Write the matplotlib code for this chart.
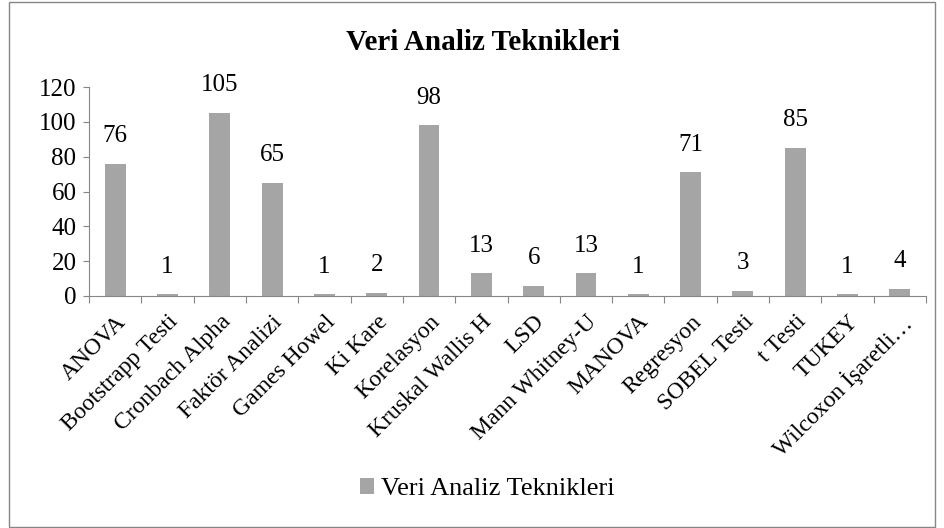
import matplotlib.pyplot as plt
from matplotlib.patches import Rectangle

# Data
categories = ['ANOVA', 'Bootstrapp Testi', 'Cronbach Alpha', 'Faktör Analizi',
              'Games Howel', 'Ki Kare', 'Korelasyon', 'Kruskal Wallis H',
              'LSD', 'Mann Whitney-U', 'MANOVA', 'Regresyon', 'SOBEL Testi',
              't Testi', 'TUKEY', 'Wilcoxon İşaretli…']
counts = [76, 1, 105, 65, 1, 2, 98, 13, 6, 13, 1, 71, 3, 85, 1, 4]
series_name = 'Veri Analiz Teknikleri'

plt.rcParams['font.family'] = ['Liberation Serif', 'DejaVu Serif']

fig = plt.figure(figsize=(9.44, 5.28), dpi=100)
ax = fig.add_axes([89 / 944, 1 - 296 / 528, 837 / 944, 209 / 528])

x = list(range(len(categories)))
bars = ax.bar(x, counts, width=0.4, color='#a5a5a5', label=series_name)

# Value labels above bars
for xi, v in zip(x, counts):
    ax.annotate(str(v), (xi, v), xytext=(0, 12), textcoords='offset points',
                ha='center', va='bottom', fontsize=18)

ax.set_xlim(-0.5, len(categories) - 0.5)
ax.set_ylim(0, 120)
ax.set_yticks(range(0, 121, 20))
ax.tick_params(axis='y', labelsize=18, length=4, color='#868686', pad=5)

# Category boundary ticks, labels centered
ax.set_xticks([i - 0.5 for i in range(len(categories) + 1)])
ax.set_xticklabels([])
ax.tick_params(axis='x', which='major', length=5, direction='out', color='#868686')
ax.set_xticks(x, minor=True)
ax.set_xticklabels(categories, minor=True, rotation=45, ha='right',
                   rotation_mode='anchor', fontsize=17)
ax.tick_params(axis='x', which='minor', length=0, pad=11)

for side in ['top', 'right']:
    ax.spines[side].set_visible(False)
for side in ['left', 'bottom']:
    ax.spines[side].set_color('#868686')

fig.text(483 / 944, 1 - 42 / 528, 'Veri Analiz Teknikleri', ha='center', va='center',
         fontsize=21, fontweight='bold')

fig.legend(handles=[bars], labels=[series_name], loc='center',
           bbox_to_anchor=(487 / 944, 1 - 489 / 528), frameon=False, fontsize=19,
           handlelength=0.55, handleheight=0.55, handletextpad=0.25)

# Outer chart border
fig.patches.append(Rectangle((9 / 944, 1 / 528), 926 / 944, 525 / 528,
                             transform=fig.transFigure, fill=False,
                             edgecolor='#868686', linewidth=1))

fig.savefig('out.png', dpi=100)
